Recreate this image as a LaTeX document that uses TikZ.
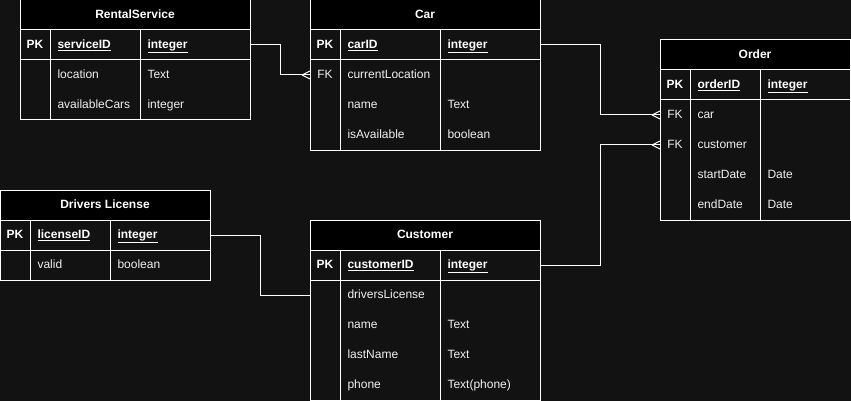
\documentclass[tikz,border=0pt]{standalone}
\usepackage{fontspec}
\setmainfont{Liberation Sans}
\definecolor{bgc}{HTML}{121212}
\definecolor{txt}{HTML}{F0F0F0}
\newcommand\crowfoot[1]{\draw[conn] ([xshift=-8pt]#1) -- ([yshift=4pt]#1) ([xshift=-8pt]#1) -- ([yshift=-4pt]#1);}
\begin{document}
\begin{tikzpicture}[x=1pt,y=-1pt,
  every node/.style={font=\fontsize{12}{14}\selectfont, text=txt, inner sep=0pt, outer sep=0pt},
  hdr/.style={draw=white, fill=black, line width=1pt, minimum height=30pt, text=white, text height=8pt, text depth=1pt, font=\fontsize{12}{14}\selectfont\bfseries},
  rowbox/.style={draw=white, line width=1pt, minimum height=30pt},
  rowspan/.style={minimum height=30pt},
  pk/.style={anchor=base, text=white, font=\fontsize{12}{14}\selectfont\bfseries},
  fk/.style={anchor=base},
  fld/.style={anchor=base west},
  key/.style={anchor=base west, text=white, font=\fontsize{12}{14}\selectfont\bfseries},
  border/.style={draw=white, line width=1pt},
  conn/.style={draw=white, line width=1pt}]
\fill[bgc] (0,0) rectangle (851,401);
\useasboundingbox (0,0) rectangle (851,401);

% ---------- RentalService ----------
\node[hdr, minimum width=230pt] (rs) at (135,15) {RentalService};
\node[rowbox, minimum width=230pt] (rsPK) at (135,45) {};
\draw[border] (20,60) rectangle (250,120);
\draw[border] (50,30) -- (50,120) (140,30) -- (140,120);
\node[pk] (rsPKt) at (35,48.5) {PK};
\node[key] (rsk1) at (57.5,48.5) {\underline{serviceID}};
\node[key] (rsk2) at (147.5,48.5) {\underline{integer}};
\node[fld] (rsf1) at (57.5,78.5) {location};
\node[fld] (rst1) at (147.5,78.5) {Text};
\node[fld] (rsf2) at (57.5,108.5) {availableCars};
\node[fld] (rst2) at (147.5,108.5) {integer};

% ---------- Car ----------
\node[hdr, minimum width=230pt] (car) at (425,15) {Car};
\node[rowbox, minimum width=230pt] (carPK) at (425,45) {};
\draw[border] (310,60) rectangle (540,150);
\draw[border] (340,30) -- (340,150) (440,30) -- (440,150);
\node[rowspan, minimum width=230pt] (carR1) at (425,75) {};
\node[pk] (carPKt) at (325,48.5) {PK};
\node[key] (cark1) at (347.5,48.5) {\underline{carID}};
\node[key] (cark2) at (447.5,48.5) {\underline{integer}};
\node[fk] (carFK) at (325,78.5) {FK};
\node[fld] (carf1) at (347.5,78.5) {currentLocation};
\node[fld] (carf2) at (347.5,108.5) {name};
\node[fld] (cart2) at (447.5,108.5) {Text};
\node[fld] (carf3) at (347.5,138.5) {isAvailable};
\node[fld] (cart3) at (447.5,138.5) {boolean};

% ---------- Order ----------
\node[hdr, minimum width=190pt] (ord) at (755,55) {Order};
\node[rowbox, minimum width=190pt] (ordPK) at (755,85) {};
\draw[border] (660,100) rectangle (850,220);
\draw[border] (690,70) -- (690,220) (760,70) -- (760,220);
\node[rowspan, minimum width=190pt] (ordR1) at (755,115) {};
\node[rowspan, minimum width=190pt] (ordR2) at (755,145) {};
\node[pk] (ordPKt) at (675,88.5) {PK};
\node[key] (ordk1) at (697.5,88.5) {\underline{orderID}};
\node[key] (ordk2) at (767.5,88.5) {\underline{integer}};
\node[fk] (ordFK1) at (675,118.5) {FK};
\node[fld] (ordf1) at (697.5,118.5) {car};
\node[fk] (ordFK2) at (675,148.5) {FK};
\node[fld] (ordf2) at (697.5,148.5) {customer};
\node[fld] (ordf3) at (697.5,178.5) {startDate};
\node[fld] (ordt3) at (767.5,178.5) {Date};
\node[fld] (ordf4) at (697.5,208.5) {endDate};
\node[fld] (ordt4) at (767.5,208.5) {Date};

% ---------- Drivers License ----------
\node[hdr, minimum width=210pt] (dl) at (105,205) {Drivers License};
\node[rowbox, minimum width=210pt] (dlPK) at (105,235) {};
\draw[border] (0.5,250) rectangle (210,280);
\draw[border] (30,220) -- (30,280) (110,220) -- (110,280);
\node[pk] (dlPKt) at (15,238.5) {PK};
\node[key] (dlk1) at (37.5,238.5) {\underline{licenseID}};
\node[key] (dlk2) at (117.5,238.5) {\underline{integer}};
\node[fld] (dlf1) at (37.5,268.5) {valid};
\node[fld] (dlt1) at (117.5,268.5) {boolean};

% ---------- Customer ----------
\node[hdr, minimum width=230pt] (cust) at (425,235) {Customer};
\node[rowbox, minimum width=230pt] (custPK) at (425,265) {};
\draw[border] (310,280) rectangle (540,400);
\draw[border] (340,250) -- (340,400) (440,250) -- (440,400);
\node[rowspan, minimum width=230pt] (custR1) at (425,295) {};
\node[pk] (custPKt) at (325,268.5) {PK};
\node[key] (custk1) at (347.5,268.5) {\underline{customerID}};
\node[key] (custk2) at (447.5,268.5) {\underline{integer}};
\node[fld] (custf1) at (347.5,298.5) {driversLicense};
\node[fld] (custf2) at (347.5,328.5) {name};
\node[fld] (custt2) at (447.5,328.5) {Text};
\node[fld] (custf3) at (347.5,358.5) {lastName};
\node[fld] (custt3) at (447.5,358.5) {Text};
\node[fld] (custf4) at (347.5,388.5) {phone};
\node[fld] (custt4) at (447.5,388.5) {Text(phone)};

% ---------- connectors ----------
\draw[conn] (rsPK.east) -- ++(30,0) |- (carR1.west);
\crowfoot{carR1.west}
\draw[conn] (carPK.east) -- ++(60,0) |- (ordR1.west);
\crowfoot{ordR1.west}
\draw[conn] (custPK.east) -- ++(60,0) |- (ordR2.west);
\crowfoot{ordR2.west}
\draw[conn] (dlPK.east) -- ++(50,0) |- (custR1.west);
\end{tikzpicture}
\end{document}
